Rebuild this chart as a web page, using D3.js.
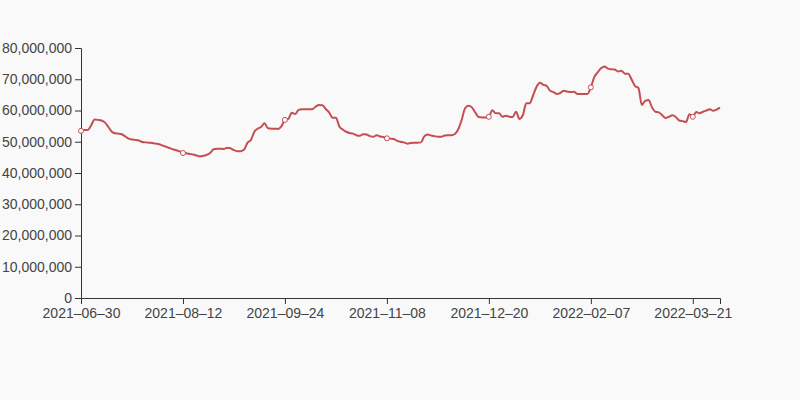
<!DOCTYPE html>
<html>
<head>
<meta charset="utf-8">
<script src="https://cdn.jsdelivr.net/npm/d3@7"></script>
<style>
  html, body { margin: 0; padding: 0; background: #f9f9f9; }
  svg { display: block; }
</style>
</head>
<body>
<svg id="chart" width="800" height="400"></svg>
<script>
// Tick labels shown on the x axis (every 30th trading day)
const tickLabels = ["2021–06–30", "2021–08–12", "2021–09–24", "2021–11–08", "2021–12–20", "2022–02–07", "2022–03–21"];
const tickEvery = 30;

// Daily values
const values = [
  53500000, 53800000, 53800000, 55300000, 57100000, 57000000, 56800000, 56200000, 54800000, 53300000,
  52700000, 52600000, 52400000, 51700000, 51000000, 50700000, 50600000, 50400000, 49900000, 49800000,
  49700000, 49600000, 49400000, 49200000, 48800000, 48400000, 48000000, 47600000, 47300000, 46900000,
  46400000, 46300000, 46100000, 45900000, 45600000, 45300000, 45500000, 45800000, 46400000, 47600000,
  47800000, 47800000, 47700000, 48100000, 47900000, 47300000, 47000000, 47000000, 47500000, 49700000,
  50600000, 53200000, 54200000, 54700000, 55900000, 54300000, 54200000, 54200000, 54100000, 55000000,
  57000000, 57300000, 59300000, 58900000, 60200000, 60400000, 60400000, 60400000, 60400000, 61200000,
  61800000, 61700000, 60500000, 59400000, 57700000, 57700000, 54900000, 53900000, 53200000, 52800000,
  52600000, 52100000, 51900000, 52400000, 52300000, 51800000, 51600000, 52100000, 51700000, 51500000,
  51100000, 51000000, 50900000, 50300000, 50000000, 49800000, 49400000, 49600000, 49700000, 49700000,
  49800000, 51700000, 52300000, 52000000, 51800000, 51600000, 51600000, 52000000, 52100000, 52100000,
  52500000, 54000000, 57000000, 60700000, 61500000, 61000000, 59400000, 57900000, 57800000, 57800000,
  58000000, 60100000, 59100000, 59100000, 58000000, 58300000, 58000000, 57900000, 59600000, 57300000,
  58500000, 62300000, 62300000, 64800000, 67500000, 68900000, 68200000, 67900000, 66300000, 65900000,
  65300000, 65600000, 66300000, 66100000, 65900000, 66000000, 65300000, 65300000, 65300000, 65300000,
  67400000, 70700000, 72200000, 73500000, 74100000, 73400000, 73200000, 73100000, 72500000, 72700000,
  71800000, 71800000, 69900000, 67800000, 67200000, 61800000, 63100000, 63400000, 61000000, 59600000,
  59400000, 58500000, 57600000, 58000000, 58500000, 57900000, 56800000, 56600000, 56300000, 58800000,
  58000000, 59500000, 59100000, 59600000, 60000000, 60400000, 59900000, 60300000, 60900000
];

// Y axis tick values
const yTicks = [0, 10000000, 20000000, 30000000, 40000000, 50000000, 60000000, 70000000, 80000000];

const margin = { left: 81, right: 80, top: 48, bottom: 102 };
const W = 800, H = 400;
const svg = d3.select("#chart");

const x = d3.scaleLinear()
  .domain([0, values.length - 1])
  .range([margin.left, W - margin.right]);
const y = d3.scaleLinear()
  .domain([0, 80000000])
  .range([H - margin.bottom, margin.top]);

const tickIdx = tickLabels.map((d, i) => i * tickEvery);

const xAxis = d3.axisBottom(x)
  .tickValues(tickIdx)
  .tickFormat((d, i) => tickLabels[i])
  .tickSize(6)
  .tickSizeOuter(6);
const yAxis = d3.axisLeft(y)
  .tickValues(yTicks)
  .tickFormat(d3.format(","))
  .tickSize(6)
  .tickSizeOuter(6);

const gx = svg.append("g")
  .attr("transform", `translate(0,${H - margin.bottom})`)
  .call(xAxis);
const gy = svg.append("g")
  .attr("transform", `translate(${margin.left},0)`)
  .call(yAxis);

[gx, gy].forEach(g => {
  g.selectAll("text")
    .attr("font-family", "'Liberation Sans', Arial, sans-serif")
    .attr("font-size", 14)
    .attr("fill", "#444");
  g.selectAll("line").attr("stroke", "#333");
  g.select(".domain").attr("stroke", "#333");
});
gx.selectAll("text").attr("dy", "0.8em");

const line = d3.line()
  .x((d, i) => x(i))
  .y(d => y(d))
  .curve(d3.curveMonotoneX);

svg.append("path")
  .datum(values)
  .attr("fill", "none")
  .attr("stroke", "#c44e52")
  .attr("stroke-width", 2)
  .attr("stroke-linejoin", "round")
  .attr("d", line);

svg.append("g")
  .selectAll("circle")
  .data(tickIdx)
  .join("circle")
  .attr("cx", d => x(d))
  .attr("cy", d => y(values[d]))
  .attr("r", 2.5)
  .attr("fill", "#fff")
  .attr("stroke", "#c44e52")
  .attr("stroke-width", 1);
</script>
</body>
</html>
